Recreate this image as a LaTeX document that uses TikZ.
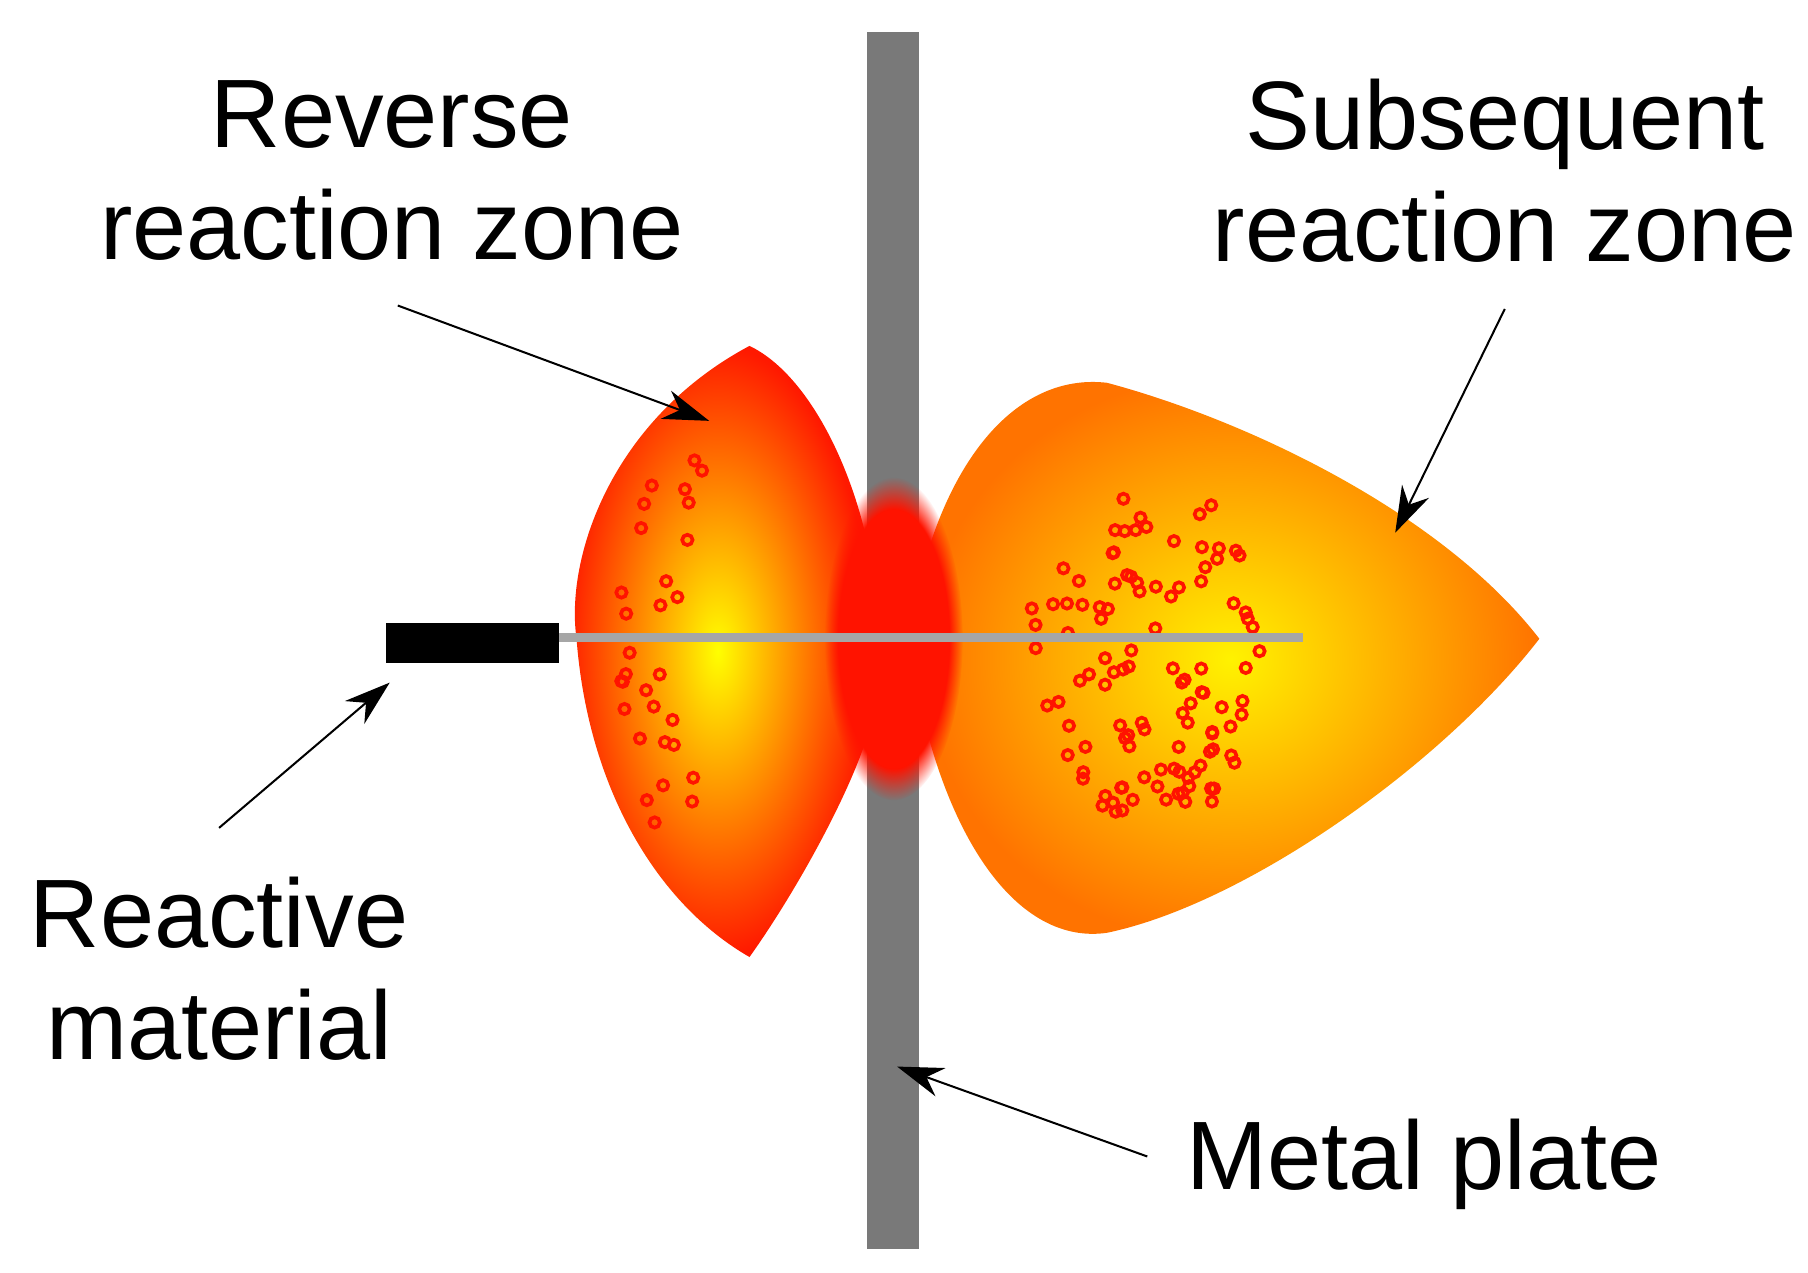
\documentclass[tikz,border=0pt]{standalone}
\usepackage{fontspec}
\setmainfont{Liberation Sans}
\usetikzlibrary{arrows.meta,positioning,fadings}
\tikzset{
  lbl/.style={align=center,font=\fontsize{24}{27.5}\selectfont},
  pointer/.style={-{Stealth[length=4mm,width=2.6mm]},line width=0.5pt},
  spark/.style={draw=red!85!orange,line width=0.9pt},
}
\begin{document}
\begin{tikzpicture}
\useasboundingbox (0,0) rectangle (15.68,11.04);
% fireballs
\fill[orange!70!red] (7.3,4.7) rectangle (8.2,6.3);
\shade[inner color=yellow,outer color=red!80!orange,shading=radial]
  (6.5,8.04) .. controls (5.3,7.4) and (4.9,6.2) .. (5.0,5.5)
  .. controls (5.1,4.2) and (5.7,3.2) .. (6.5,2.74)
  .. controls (6.9,3.3) and (7.4,4.2) .. (7.55,4.75) -- (7.55,6.2)
  .. controls (7.4,7.0) and (7.0,7.8) .. cycle;
\shade[inner color=yellow!90!orange,outer color=orange!90!red,shading=radial]
  (8.0,6.1) .. controls (8.3,7.2) and (8.9,7.8) .. (9.6,7.72)
  .. controls (10.8,7.4) and (12.5,6.6) .. (13.35,5.5)
  .. controls (12.5,4.4) and (10.8,3.2) .. (9.6,2.95)
  .. controls (8.9,2.85) and (8.3,3.6) .. (8.0,4.85) -- cycle;
% metal plate
\fill[gray!95!black] (7.52,0.21) rectangle (7.97,4.82);
\fill[gray!95!black] (7.52,6.14) rectangle (7.97,10.76);
\fill[red!85!orange,path fading=circle with fuzzy edge 20 percent]
  (7.75,5.5) ellipse (0.6 and 1.4);
% sparks
\pgfmathsetseed{7}
\foreach \i in {1,...,30}{
  \pgfmathsetmacro{\yy}{3.7+rnd*3.4}
  \pgfmathsetmacro{\xx}{5.25+0.35*abs(\yy-5.4)/1.7+rnd*0.55}
  \draw[spark] (\xx,\yy) circle (0.045);
}
\foreach \i in {1,...,110}{
  \pgfmathsetmacro{\yy}{4.0+rnd*2.75}
  \pgfmathsetmacro{\xx}{8.7+0.6*abs(\yy-5.4)+rnd*(2.3-0.9*abs(\yy-5.4))}
  \draw[spark] (\xx,\yy) circle (0.045);
}
% rod and wire
\fill[black] (3.35,5.29) rectangle (4.85,5.64);
\draw[gray!70,line width=2.4pt] (4.85,5.51) -- (11.3,5.51);
% labels
\node[lbl] (rev) at (3.4,9.56) {Reverse\\reaction zone};
\node[lbl] (sub) at (13.05,9.56) {Subsequent\\reaction zone};
\node[lbl] (mat) at (1.9,2.64) {Reactive\\material};
\node[lbl] (plt) at (12.35,0.94) {Metal plate};
\coordinate (revend) at (6.15,7.39);
\coordinate (subend) at (12.1,6.42);
\coordinate (matend) at (3.38,5.12);
\coordinate (pltend) at (7.78,1.79);
\draw[pointer] (3.45,8.39) -- (revend);
\draw[pointer] (13.05,8.36) -- (subend);
\draw[pointer] (1.9,3.86) -- (matend);
\draw[pointer] (9.95,1.01) -- (pltend);
\end{tikzpicture}
\end{document}
